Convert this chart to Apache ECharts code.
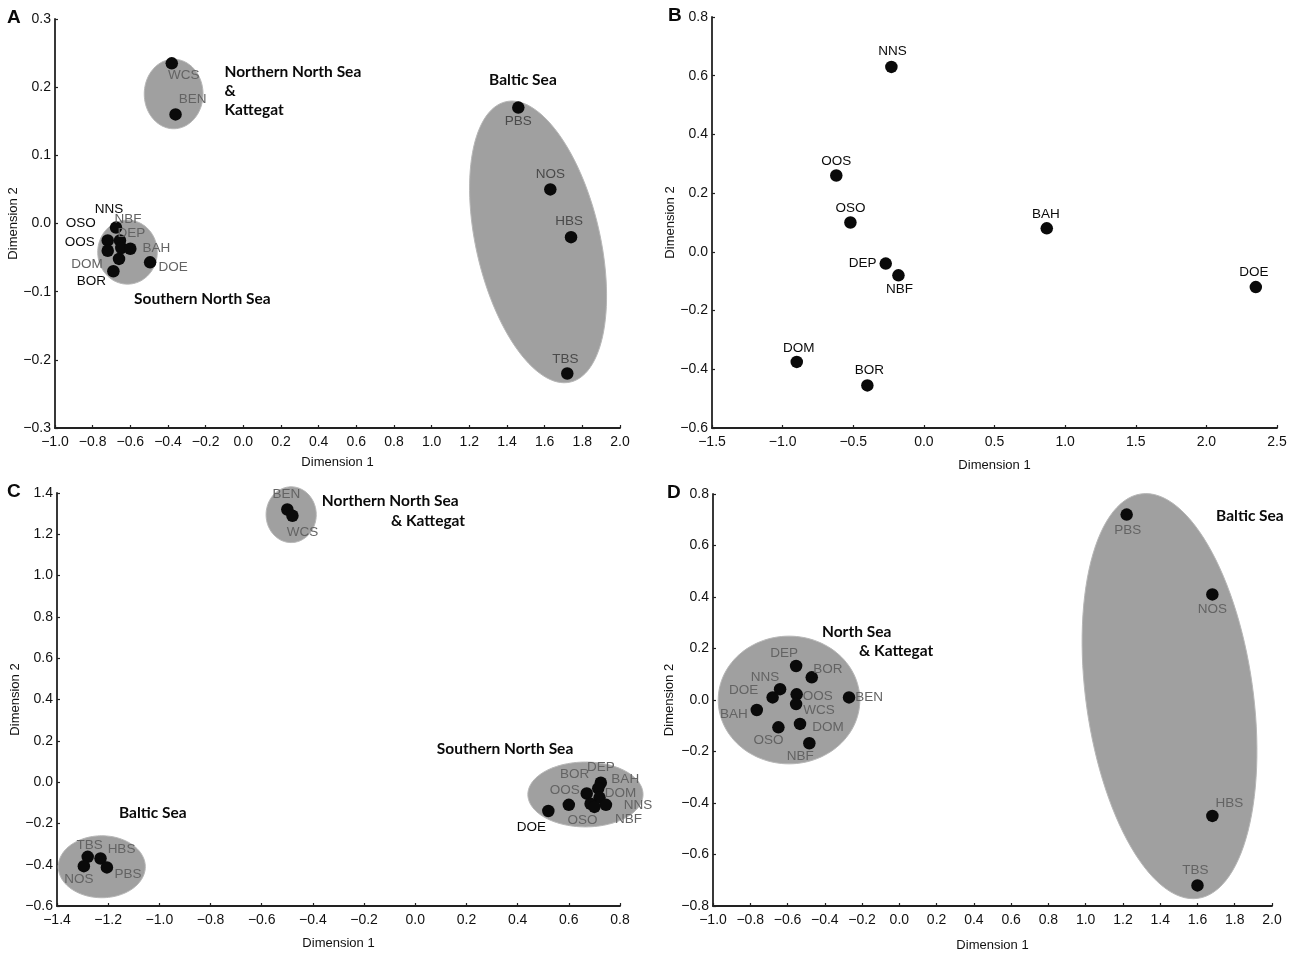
<!DOCTYPE html>
<html>
<head>
<meta charset="utf-8">
<script src="https://cdn.jsdelivr.net/npm/echarts@6/dist/echarts.min.js"></script>
<style>
html,body{margin:0;padding:0;background:#fff;}
#chart{width:1297px;height:957px;}
</style>
</head>
<body>
<div id="chart"></div>
<script>
// ---------- DATA ----------
// Panel A
const A_names = ['WCS','BEN','PBS','NOS','HBS','TBS','NNS','OSO','OOS','DOM','BOR','NBF','DEP','BAH','DOE'];
const A_x = [-0.38,-0.36,1.46,1.63,1.74,1.72,-0.676,-0.72,-0.72,-0.66,-0.69,-0.655,-0.648,-0.60,-0.495];
const A_y = [0.235,0.16,0.17,0.05,-0.02,-0.22,-0.006,-0.025,-0.04,-0.052,-0.07,-0.025,-0.036,-0.037,-0.057];
// ellipses: [centreX, centreY, radiusX, radiusY, tilt°]
const A_groups = [[-0.37,0.19,0.156,0.051,0],[-0.615,-0.042,0.158,0.047,0],[1.565,-0.027,0.329,0.211,-13]];
const A_notes = [['Northern North Sea\n&\nKattegat',-0.10,0.195],['Baltic Sea',1.305,0.211],['Southern North Sea',-0.58,-0.111]];

// Panel B
const B_names = ['NNS','OOS','OSO','BAH','DEP','NBF','DOE','DOM','BOR'];
const B_x = [-0.23,-0.62,-0.52,0.87,-0.27,-0.18,2.35,-0.90,-0.40];
const B_y = [0.63,0.26,0.10,0.08,-0.04,-0.08,-0.12,-0.375,-0.455];

// Panel C
const C_names = ['BEN','WCS','DOE','OOS','BOR','DEP','BAH','DOM','NNS','OSO','NBF','TBS','HBS','NOS','PBS'];
const C_x = [-0.50,-0.48,0.52,0.60,0.67,0.725,0.715,0.72,0.745,0.685,0.70,-1.28,-1.23,-1.295,-1.205];
const C_y = [1.32,1.29,-0.14,-0.11,-0.055,-0.003,-0.03,-0.075,-0.11,-0.105,-0.12,-0.362,-0.37,-0.407,-0.413];
const C_groups = [[-0.485,1.295,0.098,0.135,0],[0.665,-0.06,0.225,0.157,0],[-1.225,-0.41,0.17,0.15,0]];
const C_notes = [['Northern North Sea',-0.365,1.361],['& Kattegat',-0.095,1.264],['Southern North Sea',0.084,0.16],['Baltic Sea',-1.158,-0.15]];

// Panel D
const D_names = ['DEP','BOR','NNS','DOE','OOS','WCS','BEN','BAH','DOM','OSO','NBF','PBS','NOS','HBS','TBS'];
const D_x = [-0.554,-0.47,-0.64,-0.68,-0.551,-0.554,-0.27,-0.765,-0.533,-0.649,-0.483,1.22,1.68,1.68,1.60];
const D_y = [0.132,0.088,0.042,0.01,0.022,-0.016,0.01,-0.039,-0.093,-0.106,-0.168,0.72,0.41,-0.45,-0.72];
const D_groups = [[-0.592,0.0,0.38,0.248,0],[1.45,0.015,0.448,0.793,-8]];
const D_notes = [['North Sea',-0.415,0.264],['& Kattegat',-0.216,0.19],['Baltic Sea',1.70,0.715]];

// ---------- STYLE (label placement, colours) ----------
const labelOffset = {
  A:{WCS:[12,12],BEN:[17,-15],PBS:[0,14],NOS:[0,-15],HBS:[-2,-16],TBS:[-2,-14],NNS:[-7,-18],OSO:[-27,-17],OOS:[-28,-8],DOM:[-32,5],BOR:[-22,10],NBF:[8,-21],DEP:[10,-15],BAH:[26,0],DOE:[23,5]},
  B:{NNS:[1,-16],OOS:[0,-14],OSO:[0,-14],BAH:[-1,-14],DEP:[-23,0],NBF:[1,14],DOE:[-2,-15],DOM:[2,-14],BOR:[2,-15]},
  C:{BEN:[-1,-15],WCS:[10,17],DOE:[-17,16],OOS:[-4,-15],BOR:[-12,-19],DEP:[0,-15],BAH:[27,-9],DOM:[21,-4],NNS:[32,0],OSO:[-8,16],NBF:[34,12],TBS:[2,-12],HBS:[21,-9],NOS:[-5,13],PBS:[21,7]},
  D:{DEP:[-12,-13],BOR:[16,-8],NNS:[-15,-12],DOE:[-29,-7],OOS:[21,2],WCS:[23,6],BEN:[20,0],BAH:[-23,4],DOM:[28,3],OSO:[-10,13],NBF:[-9,13],PBS:[1,16],NOS:[0,15],HBS:[17,-13],TBS:[-2,-15]}
};
const blackLabels = {A:['NNS','OSO','OOS','BOR'], B:B_names, C:['DOE'], D:[]};
const darkLabels = {A:['PBS','NOS','HBS','TBS'], B:[], C:[], D:[]};

const FONT = '"Liberation Sans", Arial, sans-serif';
const NOTE_FONT = 'bold 15.5px Lato, "Open Sans", sans-serif';
const ELL_FILL = '#a0a0a0';

function fmt(v){ if (Math.abs(v) < 1e-9) return '0.0'; return v.toFixed(1).replace('-', '\u2212'); }

const grids = [
  {left:55, top:19, width:565, height:409},
  {left:712, top:17, width:565, height:411},
  {left:57, top:493, width:563, height:413},
  {left:713, top:494, width:559, height:412}
];
const axes = [
  {x:[-1,2,0.2], y:[-0.3,0.3,0.1], xg:28, yg:33},
  {x:[-1.5,2.5,0.5], y:[-0.6,0.8,0.2], xg:31, yg:35},
  {x:[-1.4,0.8,0.2], y:[-0.6,1.4,0.2], xg:31, yg:35},
  {x:[-1,2,0.2], y:[-0.8,0.8,0.2], xg:33, yg:37}
];

function axisCommon(){
  return {
    type:'value',
    axisLine:{show:true, onZero:false, lineStyle:{color:'#222', width:1.8}},
    axisTick:{show:true, inside:true, length:3, lineStyle:{color:'#222', width:1.2}},
    splitLine:{show:false},
    axisLabel:{formatter:fmt, fontSize:14, color:'#111', fontFamily:FONT, showMinLabel:true, showMaxLabel:true, hideOverlap:false, margin:7},
    nameLocation:'middle',
    nameTextStyle:{fontSize:13, color:'#111', fontFamily:FONT}
  };
}
const xAxis = axes.map((a,i)=>Object.assign(axisCommon(), {gridIndex:i, min:a.x[0], max:a.x[1], interval:a.x[2], name:'Dimension 1', nameGap:a.xg}));
const yAxis = axes.map((a,i)=>{ const o = Object.assign(axisCommon(), {gridIndex:i, min:a.y[0], max:a.y[1], interval:a.y[2], name:'Dimension 2', nameGap:a.yg}); o.axisLabel = Object.assign({}, o.axisLabel, {margin:4}); return o; });

function pointSeries(key, idx, names, xs, ys){
  return {
    type:'scatter', xAxisIndex:idx, yAxisIndex:idx, symbol:'circle', symbolSize:12.5, z:5,
    itemStyle:{color:'#0a0a0a', opacity:1},
    data:names.map((n,i)=>({
      name:n, value:[xs[i], ys[i]],
      label:{offset:labelOffset[key][n] || [0,-14],
             color: blackLabels[key].includes(n) ? '#0a0a0a' : (darkLabels[key].includes(n) ? '#4a4a4a' : '#636363')}
    })),
    label:{show:true, position:'inside', formatter:'{b}', fontSize:13.5, fontFamily:FONT, align:'center', verticalAlign:'middle'},
    emphasis:{disabled:true}
  };
}
function ellipseSeries(idx, groups){
  return {
    type:'custom', xAxisIndex:idx, yAxisIndex:idx, z:1, silent:true, clip:false,
    dimensions:['x','y','rx','ry','t'], encode:{x:0, y:1},
    data:groups,
    renderItem:function(params, api){
      const c = api.coord([api.value(0), api.value(1)]);
      const rx = api.size([api.value(2), 0])[0];
      const ry = api.size([0, api.value(3)])[1];
      const t = api.value(4) * Math.PI / 180;
      const pts = [];
      for (let k = 0; k < 120; k++){
        const a = k / 120 * Math.PI * 2;
        const lx = rx * Math.cos(a), ly = ry * Math.sin(a);
        pts.push([c[0] + lx*Math.cos(t) - ly*Math.sin(t), c[1] + lx*Math.sin(t) + ly*Math.cos(t)]);
      }
      return {type:'polygon', shape:{points:pts}, style:{fill:ELL_FILL, stroke:'#b6b6b6', lineWidth:1}};
    }
  };
}
function noteSeries(idx, notes){
  return {
    type:'custom', xAxisIndex:idx, yAxisIndex:idx, z:6, silent:true, clip:false,
    dimensions:['x','y'], encode:{x:0, y:1},
    data:notes.map(n=>[n[1], n[2]]),
    renderItem:function(params, api){
      const c = api.coord([api.value(0), api.value(1)]);
      return {type:'text', x:c[0], y:c[1], style:{text:notes[params.dataIndex][0], font:NOTE_FONT, fill:'#0a0a0a', textAlign:'left', textVerticalAlign:'middle', lineHeight:19}};
    }
  };
}

const series = [
  ellipseSeries(0, A_groups), pointSeries('A', 0, A_names, A_x, A_y), noteSeries(0, A_notes),
  pointSeries('B', 1, B_names, B_x, B_y),
  ellipseSeries(2, C_groups), pointSeries('C', 2, C_names, C_x, C_y), noteSeries(2, C_notes),
  ellipseSeries(3, D_groups), pointSeries('D', 3, D_names, D_x, D_y), noteSeries(3, D_notes)
];

const panelLetters = [['A',14,19],['B',675,17],['C',14,493],['D',674,494]];

const chart = echarts.init(document.getElementById('chart'), null, {renderer:'canvas'});
chart.setOption({
  animation:false,
  backgroundColor:'#fff',
  grid:grids,
  xAxis:xAxis,
  yAxis:yAxis,
  series:series,
  graphic:panelLetters.map(p=>({type:'text', left:p[1]-7, top:p[2]-11, style:{text:p[0], font:'bold 19px "Liberation Sans", Arial, sans-serif', fill:'#0a0a0a'}}))
});
</script>
</body>
</html>
